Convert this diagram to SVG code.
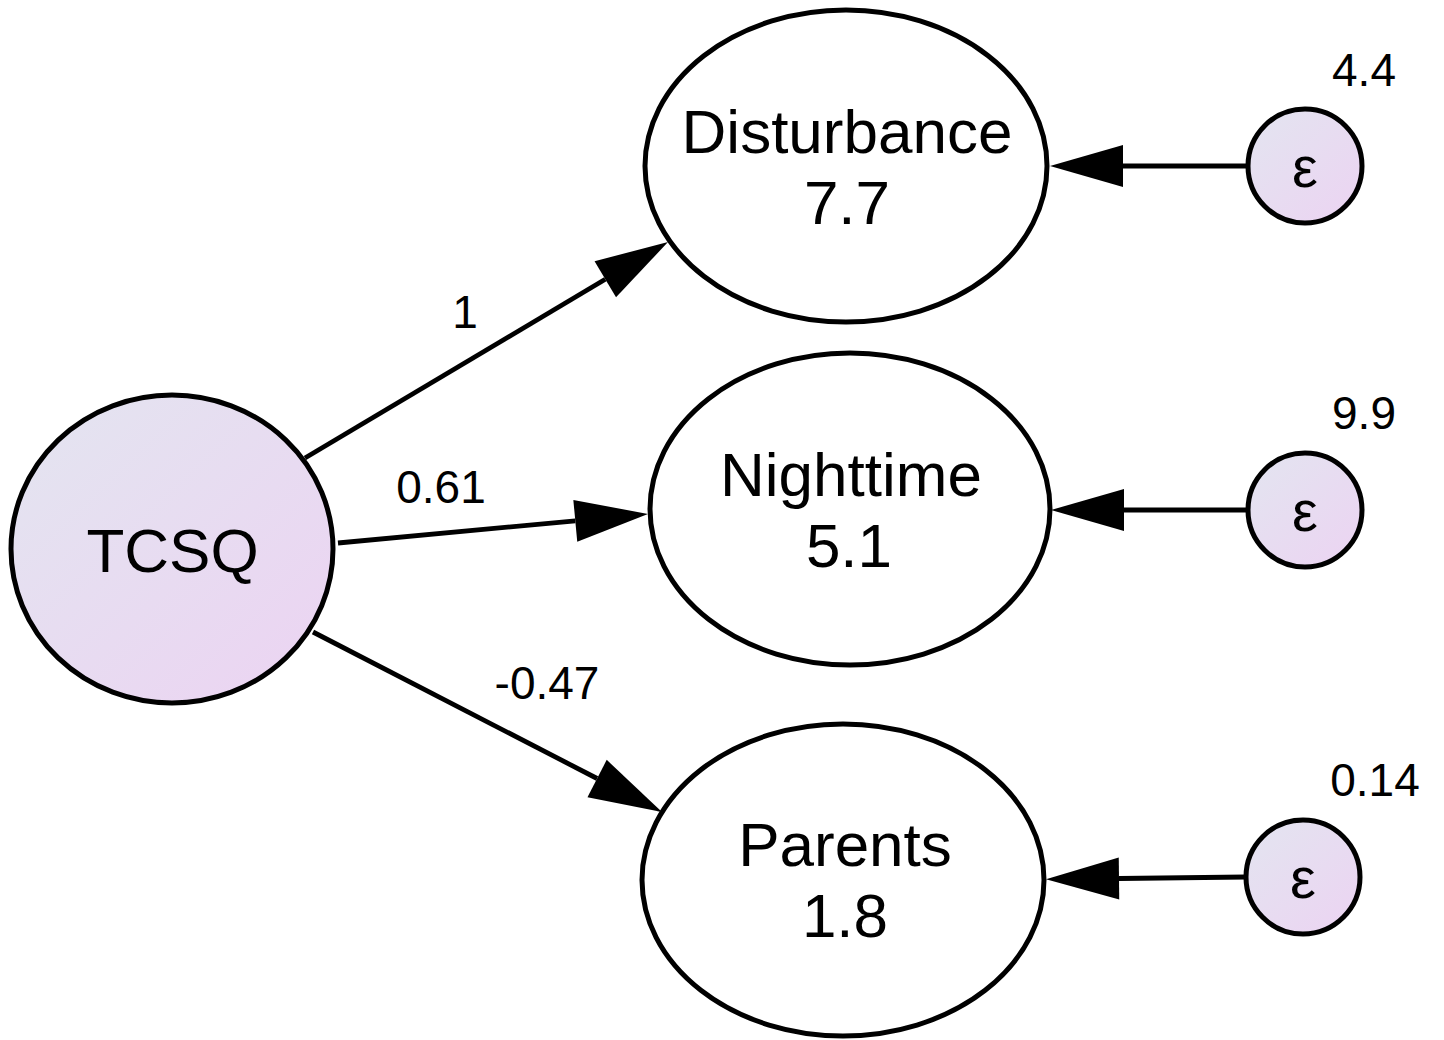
<svg xmlns="http://www.w3.org/2000/svg" width="1444" height="1040" viewBox="0 0 1444 1040">
<defs>
<linearGradient id="lat" x1="0" y1="0" x2="1" y2="1">
<stop offset="0" stop-color="#e3e5f0"/>
<stop offset="1" stop-color="#ecd3f2"/>
</linearGradient>
<marker id="ah" markerUnits="userSpaceOnUse" refX="0" refY="0" orient="auto" markerWidth="80" markerHeight="50" overflow="visible">
<path d="M0,-21 L73,0 L0,21 Z" fill="#000"/>
</marker>
<style>
.node{stroke:#000;stroke-width:5}
.obs{fill:#fff}
.lat{fill:url(#lat)}
.t{font-family:"Liberation Sans",Arial,sans-serif;fill:#000;text-anchor:middle}
.big{font-size:62px}
.small{font-size:46px}
.eps{font-size:58px}
.edge{stroke:#000;stroke-width:4.8;fill:none;marker-end:url(#ah)}
</style>
</defs>
<rect width="1444" height="1040" fill="#fff"/>
<g id="connectors">
<line class="edge" x1="305" y1="458" x2="605.3" y2="279.3"/>
<line class="edge" x1="338" y1="543" x2="575.3" y2="520.8"/>
<line class="edge" x1="313" y1="632" x2="597.1" y2="778.5"/>
<line class="edge" x1="1248" y1="166" x2="1123" y2="166"/>
<line class="edge" x1="1248" y1="510" x2="1124" y2="510"/>
<line class="edge" x1="1246" y1="877" x2="1119" y2="878.5"/>
<text class="t small" x="465" y="328">1</text>
<text class="t small" x="441" y="503">0.61</text>
<text class="t small" x="547" y="699">-0.47</text>
</g>
<g id="TCSQ">
<ellipse class="node lat" cx="172" cy="549" rx="161" ry="154"/>
<text class="t big" x="172.5" y="572">TCSQ</text>
</g>
<g id="Disturbance">
<ellipse class="node obs" cx="846" cy="166" rx="201" ry="156"/>
<text class="t big" x="847" y="153">Disturbance</text>
<text class="t big" x="847" y="224">7.7</text>
</g>
<g id="Nighttime">
<ellipse class="node obs" cx="850" cy="509" rx="200" ry="156"/>
<text class="t big" x="851" y="496">Nighttime</text>
<text class="t big" x="849" y="567">5.1</text>
</g>
<g id="Parents">
<ellipse class="node obs" cx="843" cy="880" rx="201" ry="156"/>
<text class="t big" x="845" y="866">Parents</text>
<text class="t big" x="845" y="937">1.8</text>
</g>
<g id="e1">
<circle class="node lat" cx="1305" cy="166" r="57"/>
<text class="t eps" x="1305" y="187">ε</text>
<text class="t small" x="1364" y="86">4.4</text>
</g>
<g id="e2">
<circle class="node lat" cx="1305" cy="510" r="57"/>
<text class="t eps" x="1305" y="531">ε</text>
<text class="t small" x="1364" y="429">9.9</text>
</g>
<g id="e3">
<circle class="node lat" cx="1303" cy="877" r="57"/>
<text class="t eps" x="1303" y="898">ε</text>
<text class="t small" x="1375" y="796">0.14</text>
</g>
</svg>
